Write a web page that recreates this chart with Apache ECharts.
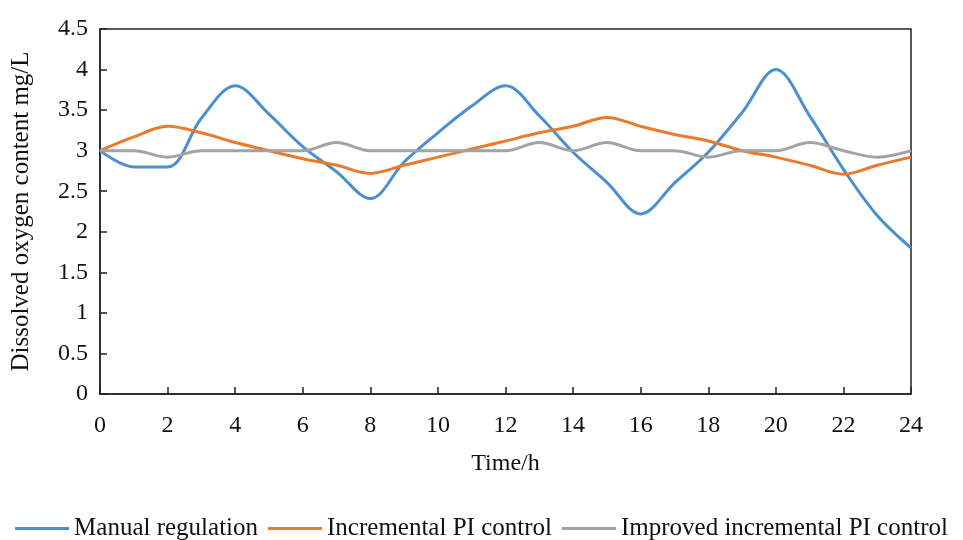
<!DOCTYPE html>
<html>
<head>
<meta charset="utf-8">
<script src="https://cdn.jsdelivr.net/npm/echarts@6/dist/echarts.min.js"></script>
<style>
html, body { margin: 0; padding: 0; background: #fff; }
#chart { width: 963px; height: 540px; }
</style>
</head>
<body>
<div id="chart"></div>
<script>
// hours 0..24
const hours = [0, 1, 2, 3, 4, 5, 6, 7, 8, 9, 10, 11, 12, 13, 14, 15, 16, 17, 18, 19, 20, 21, 22, 23, 24];
const manual = [3.0, 2.8, 2.8, 3.4, 3.8, 3.45, 3.05, 2.74, 2.41, 2.86, 3.22, 3.55, 3.8, 3.43, 2.98, 2.61, 2.22, 2.6, 2.98, 3.47, 4.0, 3.43, 2.77, 2.2, 1.8];
const incrementalPI = [3.0, 3.17, 3.3, 3.22, 3.1, 3.0, 2.9, 2.82, 2.72, 2.82, 2.92, 3.02, 3.12, 3.22, 3.3, 3.41, 3.3, 3.2, 3.12, 3.0, 2.92, 2.82, 2.71, 2.82, 2.92];
const improvedPI = [3.0, 3.0, 2.92, 3.0, 3.0, 3.0, 3.0, 3.1, 3.0, 3.0, 3.0, 3.0, 3.0, 3.1, 3.0, 3.1, 3.0, 3.0, 2.92, 3.0, 3.0, 3.1, 3.0, 2.92, 3.0];
const seriesNames = ["Manual regulation", "Incremental PI control", "Improved incremental PI control"];
const colors = ["#4a8fd0", "#ec7a2c", "#a3a3a3"];

const myChart = echarts.init(document.getElementById("chart"));
const font = "Liberation Serif";

const makeSeries = (name, values, color) => ({
  name: name,
  type: "line",
  data: hours.map((h, i) => [h, values[i]]),
  smooth: 0.35,
  showSymbol: false,
  lineStyle: { color: color, width: 3 },
  itemStyle: { color: color },
});

const option = {
  backgroundColor: "#FFFFFF",
  animation: false,
  textStyle: { fontFamily: font },
  grid: {
    left: 100,
    right: 52,
    top: 29,
    bottom: 146,
    show: true,
    borderColor: "#222",
    borderWidth: 1.5,
  },
  legend: {
    top: 511,
    left: "center",
    itemWidth: 54,
    itemHeight: 3,
    itemGap: 10,
    icon: "rect",
    textStyle: { fontFamily: font, fontSize: 25, color: "#111" },
    data: seriesNames,
  },
  xAxis: {
    type: "value",
    min: 0,
    max: 24,
    interval: 2,
    name: "Time/h",
    nameLocation: "middle",
    nameGap: 58,
    nameTextStyle: { fontFamily: font, fontSize: 24, color: "#111" },
    axisLine: { lineStyle: { color: "#222", width: 1.5 } },
    axisTick: { inside: true, length: 7, lineStyle: { color: "#222", width: 1.5 } },
    axisLabel: { fontFamily: font, fontSize: 24, color: "#111", margin: 20 },
    splitLine: { show: false },
  },
  yAxis: {
    type: "value",
    min: 0,
    max: 4.5,
    interval: 0.5,
    name: "Dissolved oxygen content mg/L",
    nameLocation: "middle",
    nameGap: 66,
    nameTextStyle: { fontFamily: font, fontSize: 25, color: "#111" },
    axisLine: { show: true, lineStyle: { color: "#222", width: 1.5 } },
    axisTick: { show: true, inside: true, length: 7, lineStyle: { color: "#222", width: 1.5 } },
    axisLabel: { fontFamily: font, fontSize: 24, color: "#111", margin: 12 },
    splitLine: { show: false },
  },
  series: [
    makeSeries(seriesNames[0], manual, colors[0]),
    makeSeries(seriesNames[1], incrementalPI, colors[1]),
    makeSeries(seriesNames[2], improvedPI, colors[2]),
  ],
};

myChart.setOption(option);
</script>
</body>
</html>
